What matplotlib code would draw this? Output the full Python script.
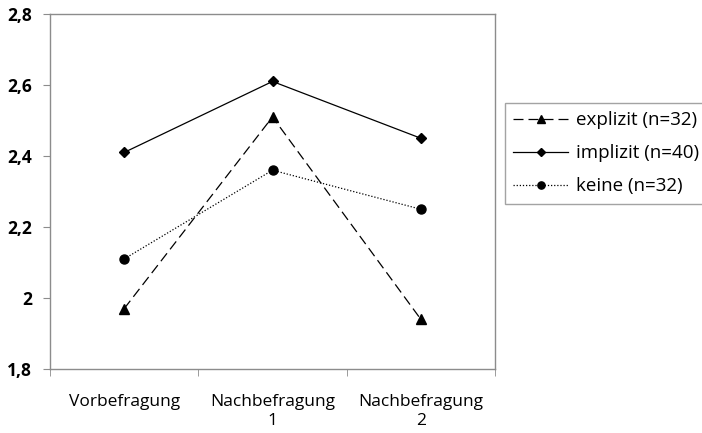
import matplotlib
matplotlib.use("Agg")
import matplotlib.pyplot as plt
from matplotlib.ticker import FixedLocator

categories = ["Vorbefragung", "Nachbefragung\n1", "Nachbefragung\n2"]
explizit = [1.97, 2.51, 1.94]
implizit = [2.41, 2.61, 2.45]
keine = [2.11, 2.36, 2.25]
series_labels = ["explizit (n=32)", "implizit (n=40)", "keine (n=32)"]
yticks = [1.8, 2.0, 2.2, 2.4, 2.6, 2.8]
ytick_labels = ["1,8", "2", "2,2", "2,4", "2,6", "2,8"]

plt.rcParams['font.family'] = ['Open Sans', 'DejaVu Sans']

fig = plt.figure(figsize=(7.02, 4.33), dpi=100)
ax = fig.add_axes([50/702, 1-369/433, (495-50)/702, (369-14)/433])

x = list(range(len(categories)))
l1, = ax.plot(x, explizit, color='black', lw=0.9, dashes=(8, 4), marker='^', markersize=7, label=series_labels[0])
l2, = ax.plot(x, implizit, color='black', lw=0.9, marker='D', markersize=5.5, label=series_labels[1])
l3, = ax.plot(x, keine, color='black', lw=0.9, linestyle=(0, (1, 1.5)), marker='o', markersize=6.5, label=series_labels[2])

ax.set_xlim(-0.5, 2.5)
ax.set_ylim(1.8, 2.8)
ax.set_yticks(yticks)
ax.set_yticklabels(ytick_labels, fontsize=12.5, fontweight='bold')
ax.set_xticks(x)
ax.set_xticklabels(categories, fontsize=12.5, linespacing=1.25)
ax.xaxis.set_minor_locator(FixedLocator([-0.5, 0.5, 1.5, 2.5]))
ax.tick_params(axis='x', which='major', length=0, pad=18)
ax.tick_params(axis='x', which='minor', length=5, color='#8c8c8c', direction='out')
ax.tick_params(axis='y', length=5, color='#8c8c8c', direction='out', pad=8)

for s in ax.spines.values():
    s.set_color('#8c8c8c')
    s.set_linewidth(1.0)

leg = fig.legend(handles=[l1, l2, l3], loc='upper left', bbox_to_anchor=(505/702, 1-103/433),
                 fontsize=13.5, frameon=True, fancybox=False, edgecolor='#8c8c8c',
                 handlelength=2.9, handletextpad=0.45, labelspacing=0.8, borderpad=0.45,
                 borderaxespad=0, markerscale=0.8)
leg.get_frame().set_linewidth(1.0)

fig.savefig("out.png", dpi=100)
